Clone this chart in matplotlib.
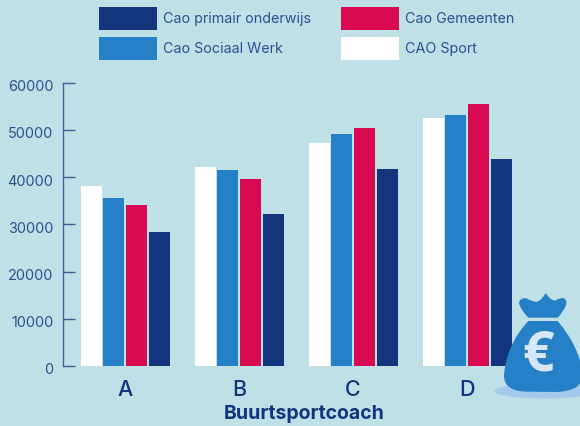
import matplotlib
matplotlib.use("Agg")
import matplotlib.pyplot as plt
import numpy as np
from matplotlib.patches import PathPatch, Ellipse
from matplotlib.path import Path
from matplotlib.transforms import ScaledTranslation

plt.rcParams['font.family'] = ['Inter', 'DejaVu Sans']

categories = ['A', 'B', 'C', 'D']
cao_sport = [38100, 42200, 47200, 52500]
cao_sociaal = [35600, 41500, 49200, 53200]
cao_gemeenten = [34100, 39600, 50400, 55500]
cao_primair = [28400, 32200, 41700, 43900]
y_ticks = [0, 10000, 20000, 30000, 40000, 50000, 60000]

BG = '#bfe0e7'; WHITE = '#ffffff'; BLUE = '#2580c7'; RED = '#d80a52'; NAVY = '#12357d'
AXC = '#3d5f9a'; TXT = '#2f4f8f'

W, H = 580, 426
fig = plt.figure(figsize=(W/100, H/100), dpi=100, facecolor=BG)
left, right, top, bottom = 63, 580, 82.5, 366
ax = fig.add_axes([left/W, 1-bottom/H, (right-left)/W, (bottom-top)/H], facecolor='none')

# x-scale: group spacing 114 px, first group centre at 125.5 px
ax.set_xlim((left-125.2)/114, (right-125.2)/114)
ax.set_ylim(0, 60000)
x = np.arange(len(categories))
bw, pitch = 21/114, 22.8/114
series = [(cao_sport, WHITE, 'CAO Sport'), (cao_sociaal, BLUE, 'Cao Sociaal Werk'),
          (cao_gemeenten, RED, 'Cao Gemeenten'), (cao_primair, NAVY, 'Cao primair onderwijs')]
bars = {}
for i, (vals, col, lab) in enumerate(series):
    bars[lab] = ax.bar(x + (i-1.5)*pitch, vals, bw, color=col, label=lab, linewidth=0)

for s in ['top', 'right', 'bottom']:
    ax.spines[s].set_visible(False)
ax.spines['left'].set_color(AXC); ax.spines['left'].set_linewidth(1.0)
ax.set_yticks(y_ticks)
ax.tick_params(axis='y', direction='in', length=8.5, width=1.0, color=AXC, labelcolor=TXT,
               labelsize=10.4, pad=7)
off = ScaledTranslation(0, -3/100, fig.dpi_scale_trans)
for t in ax.get_yticklabels():
    t.set_transform(t.get_transform() + off)
ax.set_xticks(x, categories)
ax.tick_params(axis='x', length=0, labelcolor=NAVY, labelsize=15.5, pad=10)
for t in ax.get_xticklabels():
    t.set_fontweight('medium')
fig.text(304/W, 1-414/H, 'Buurtsportcoach', ha='center', va='center', color=NAVY,
         fontsize=14, fontweight='bold')

order = ['Cao primair onderwijs', 'Cao Sociaal Werk', 'Cao Gemeenten', 'CAO Sport']
leg = fig.legend([bars[k][0] for k in order], order, ncol=2, frameon=False, loc='upper left',
                 bbox_to_anchor=(99/W, 1-7/H), borderaxespad=0, borderpad=0,
                 fontsize=10.3, labelcolor=TXT, handlelength=4.05, handleheight=2.1,
                 handletextpad=0.42, labelspacing=0.49, columnspacing=2.1)

# money bag decoration in pixel coordinates
ov = fig.add_axes([0, 0, 1, 1], facecolor='none')
ov.set_xlim(0, W); ov.set_ylim(H, 0); ov.axis('off')
ov.add_patch(Ellipse((545, 391), 102, 15, color='#a3c9ec', lw=0))
M, L, C, Z = Path.MOVETO, Path.LINETO, Path.CURVE3, Path.CLOSEPOLY
def P(zx, zy):
    return (400+zx/3, 270+zy/3)
knot = [(M,385,143),(C,362,120),(L,357,100),(C,358,82),(L,380,85),(C,400,97),(L,412,95),
        (C,425,90),(L,437,69),(C,450,90),(L,465,92),(C,482,82),(L,492,85),(C,503,92),(L,497,108),
        (C,488,128),(L,473,143),(Z,385,143)]
def norm(seg):
    codes, verts = [], []
    i = 0
    while i < len(seg):
        c, a, b = seg[i]
        if c == C:
            _, a2, b2 = seg[i+1]
            codes += [Path.CURVE3, Path.CURVE3]; verts += [P(a, b), P(a2, b2)]; i += 2
        else:
            codes.append(c); verts.append(P(a, b)); i += 1
    return Path(verts, codes)
ov.add_patch(PathPatch(norm(knot), fc=BLUE, lw=0))
body = [(M,385,153),(L,473,153),(C,535,225),(L,549,310),(C,552,362),(L,470,366),(L,385,365),
        (C,310,365),(L,312,315),(C,320,222),(L,385,153),(Z,385,153)]
ov.add_patch(PathPatch(norm(body), fc=BLUE, lw=0))
ov.text(538, 356, '€', ha='center', va='center', color='#d7e6f8', fontsize=40, fontweight='bold',
        family=['Open Sans', 'DejaVu Sans'])

fig.savefig('out.png', dpi=100, facecolor=BG)
